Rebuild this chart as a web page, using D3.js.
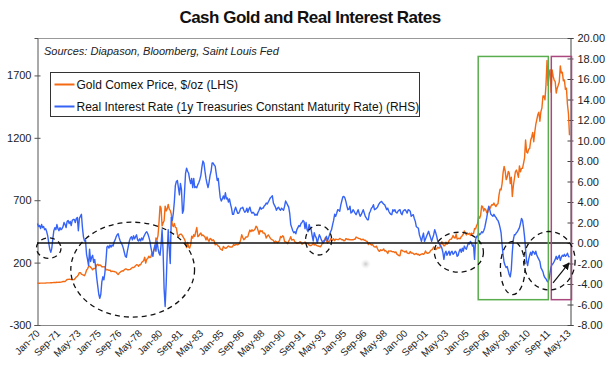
<!DOCTYPE html>
<html>
<head>
<meta charset="utf-8">
<script src="https://cdn.jsdelivr.net/npm/d3@7"></script>
<style>
  body { margin: 0; background: #fff; }
  svg text { font-family: "Liberation Sans", Arial, sans-serif; }
</style>
</head>
<body>
<div id="chart"></div>
<script>
// ---------------------------------------------------------------------------
// Data: month-end values, Jan-70 .. Jun-13
// ---------------------------------------------------------------------------

const startMonth = new Date(1970, 0, 1);

// Gold Comex price, $/oz (LHS)
const gold = [
  34.9, 35.0, 35.1, 35.6, 35.5, 35.4, 35.3, 35.4, 36.2, 37.5, 37.4, 37.4,          // 1970
  37.9, 38.7, 38.9, 39.9, 40.2, 40.1, 41.0, 42.7, 42.0, 42.5, 43.0, 43.6,          // 1971
  46.0, 48.2, 48.3, 49.0, 56.0, 64.5, 66.0, 67.0, 65.5, 64.9, 62.9, 63.9,          // 1972
  65.1, 74.2, 84.5, 90.5, 102.0, 120.0, 120.0, 106.8, 103.0, 100.1, 94.8, 112.3,   // 1973
  139.3, 150.0, 168.4, 172.2, 163.3, 154.1, 143.0, 154.1, 151.8, 158.8, 181.7, 186.5, // 1974
  175.8, 181.8, 177.3, 167.0, 167.0, 165.5, 166.7, 144.2, 141.3, 142.9, 138.2, 140.3, // 1975
  128.2, 132.3, 129.6, 128.4, 126.3, 123.8, 112.5, 104.0, 116.0, 123.2, 130.3, 134.5, // 1976
  132.3, 142.8, 148.9, 149.1, 143.0, 143.0, 144.1, 146.0, 154.1, 161.5, 160.5, 164.9, // 1977
  175.5, 182.3, 181.6, 170.9, 184.2, 183.1, 200.3, 208.1, 217.1, 242.6, 195.4, 226.0, // 1978
  233.7, 251.3, 240.1, 245.3, 274.6, 277.5, 296.5, 315.1, 397.3, 382.0, 415.7, 524.0, // 1979
  653, 637, 494, 518, 535, 653, 614, 631, 666, 629, 619, 590,                      // 1980
  502, 489, 513, 482, 479, 426, 406, 425, 428, 427, 414, 400,                      // 1981
  387, 362, 320, 361, 325, 317, 342, 411, 397, 423, 410, 448,                      // 1982
  481, 408, 415, 429, 437, 416, 422, 414, 405, 382, 405, 382,                      // 1983
  370, 394, 388, 375, 384, 373, 342, 348, 343, 333, 329, 309,                      // 1984
  306, 299, 329, 321, 314, 317, 326, 333, 326, 325, 325, 327,                      // 1985
  345, 338, 344, 345, 343, 346, 357, 384, 423, 401, 383, 391,                      // 1986
  405, 405, 408, 438, 461, 448, 463, 453, 460, 468, 492, 484,                      // 1987
  458, 426, 457, 449, 456, 436, 437, 427, 397, 412, 422, 410,                      // 1988
  395, 387, 383, 377, 361, 373, 369, 359, 367, 375, 409, 401,                      // 1989
  415, 407, 368, 367, 363, 352, 372, 387, 408, 380, 384, 386,                      // 1990
  366, 362, 355, 357, 360, 368, 362, 347, 355, 357, 366, 353,                      // 1991
  354, 353, 341, 337, 337, 343, 357, 340, 349, 339, 334, 333,                      // 1992
  330, 327, 337, 355, 378, 378, 401, 371, 355, 369, 371, 391,                      // 1993
  378, 381, 391, 376, 387, 386, 384, 385, 394, 389, 383, 383,                      // 1994
  375, 376, 392, 389, 385, 387, 383, 382, 384, 383, 387, 387,                      // 1995
  405, 400, 396, 392, 391, 382, 385, 387, 379, 380, 371, 369,                      // 1996
  345, 358, 349, 340, 345, 334, 326, 325, 332, 311, 296, 290,                      // 1997
  303, 297, 301, 310, 293, 296, 288, 273, 294, 292, 294, 288,                      // 1998
  287, 288, 280, 286, 268, 262, 256, 255, 299, 299, 292, 290,                      // 1999
  284, 294, 278, 275, 273, 289, 277, 277, 274, 265, 270, 273,                      // 2000
  265, 267, 258, 264, 268, 271, 266, 273, 293, 279, 275, 277,                      // 2001
  282, 297, 302, 308, 326, 318, 304, 312, 324, 316, 319, 348,                      // 2002
  368, 348, 334, 337, 364, 346, 355, 376, 386, 386, 398, 417,                      // 2003
  400, 397, 427, 388, 393, 395, 391, 408, 416, 428, 453, 438,                      // 2004
  422, 435, 428, 436, 418, 436, 430, 433, 473, 470, 495, 513,                      // 2005
  569, 556, 582, 655, 648, 614, 633, 623, 599, 604, 646, 632,                      // 2006
  650, 664, 662, 677, 660, 650, 665, 672, 743, 789, 783, 834,                      // 2007
  923, 971, 934, 865, 886, 930, 918, 833, 885, 730, 814, 870,                      // 2008
  928, 942, 916, 884, 975, 927, 955, 955, 996, 1040, 1182, 1087,                   // 2009
  1078, 1109, 1113, 1180, 1207, 1244, 1169, 1246, 1307, 1346, 1386, 1405,          // 2010
  1333, 1410, 1439, 1535, 1536, 1505, 1628, 1820, 1620, 1722, 1746, 1565,          // 2011
  1744, 1694, 1662, 1651, 1559, 1598, 1622, 1648, 1776, 1720, 1726, 1657,          // 2012
  1664, 1588, 1598, 1469, 1393, 1220                                               // 2013
];

// Real interest rate, 1y Treasuries CMT less inflation, % (RHS)
const realRate = [
  1.9, 1.6, 1.7, 1.4, 1.8, 1.5, 1.6, 1.3, 1.4, 1.1, 0.7, 0.0,          // 1970
  -0.6, -0.9, -0.5, 0.4, 1.2, 1.5, 1.3, 1.8, 1.4, 1.2, 1.5, 1.3,       // 1971
  1.4, 1.6, 2.0, 1.8, 1.5, 2.1, 2.2, 1.9, 2.1, 1.7, 2.2, 2.3,          // 1972
  2.3, 2.0, 2.4, 2.5, 1.2, 2.4, 2.6, 2.8, 1.5, 0.6, 0.2, 0.3,          // 1973
  -1.1, -1.6, -2.2, -0.6, -1.8, -1.4, -1.2, -1.9, -1.6, -2.4, -3.4, -4.2, // 1974
  -5.0, -5.4, -5.0, -3.8, -3.3, -3.6, -2.9, -1.8, -0.4, -0.3, -0.5, -0.2, // 1975
  -0.4, -0.2, -0.3, 0.1, 0.3, 0.6, 0.8, 0.9, 0.5, 0.2, 0.0, -0.2,      // 1976
  -0.5, -0.9, -1.3, -1.4, -0.8, -0.3, 0.2, 0.5, 0.6, 0.3, 0.7, 0.4,    // 1977
  0.6, 0.8, 0.3, 0.2, 0.4, 0.2, 0.5, 0.3, 0.6, 0.8, 1.0, 1.1,          // 1978
  0.9, 0.6, 0.2, -0.4, -0.9, -1.3, -0.6, -0.2, -0.8, 0.2, -0.5, -1.0,  // 1979
  -1.2, -0.2, 1.3, -0.8, -4.5, -6.2, -4.0, -1.0, 1.3, -0.5, -2.0, 2.5, // 1980
  2.2, 2.9, 4.0, 5.6, 6.0, 6.1, 5.4, 4.7, 5.8, 5.2, 2.9, 3.2,          // 1981
  5.0, 6.8, 7.3, 7.0, 6.8, 6.2, 5.8, 6.3, 5.4, 6.3, 5.4, 5.5,          // 1982
  5.4, 5.7, 5.9, 6.2, 6.6, 7.4, 8.0, 7.8, 7.0, 6.3, 5.8, 5.4,          // 1983
  5.9, 6.6, 7.0, 7.8, 7.8, 7.6, 7.5, 6.8, 6.1, 6.3, 5.3, 4.4,          // 1984
  4.1, 4.3, 4.6, 4.3, 4.9, 4.3, 4.4, 4.0, 4.3, 3.8, 3.4, 2.8,          // 1985
  2.8, 3.2, 3.5, 3.2, 2.9, 2.9, 3.1, 3.4, 3.4, 3.5, 3.2, 3.0,          // 1986
  3.1, 3.4, 3.0, 3.3, 3.5, 3.1, 2.9, 3.0, 2.9, 2.7, 2.8, 2.7,          // 1987
  3.0, 3.2, 3.5, 3.3, 3.4, 3.4, 3.6, 3.7, 3.9, 3.8, 4.0, 4.2,          // 1988
  4.4, 4.5, 4.6, 3.9, 3.7, 3.5, 3.2, 3.4, 3.5, 3.3, 3.2, 3.4,          // 1989
  3.3, 3.2, 3.6, 4.1, 3.9, 3.7, 3.5, 2.9, 1.8, 1.5, 1.2, 1.0,          // 1990
  1.1, 0.9, 1.3, 1.5, 1.7, 1.6, 1.9, 2.0, 2.2, 2.1, 1.4, 2.0,          // 1991
  1.3, 1.1, 1.8, 1.5, 1.3, 0.7, 0.2, 1.0, 0.7, 0.5, 0.0, 0.4,          // 1992
  0.8, 0.6, 0.3, 0.1, 0.0, 0.2, 0.4, 0.65, 0.2, 0.5, 0.8, 1.1,         // 1993
  1.3, 1.8, 2.2, 2.8, 2.6, 2.9, 3.25, 3.2, 3.1, 3.7, 4.1, 4.5,         // 1994
  4.55, 4.4, 4.06, 3.6, 3.25, 3.3, 3.6, 2.92, 3.0, 3.25, 3.1, 2.92,    // 1995
  2.76, 3.0, 3.25, 2.9, 2.6, 2.76, 3.0, 3.25, 2.92, 2.6, 2.44, 2.27,   // 1996
  2.27, 2.92, 3.1, 3.4, 3.5, 3.74, 3.25, 3.3, 3.4, 3.5, 3.74, 3.9,     // 1997
  4.0, 4.06, 3.9, 3.8, 3.74, 3.5, 3.25, 3.4, 3.1, 2.92, 2.8, 2.76,     // 1998
  3.25, 3.1, 3.25, 3.0, 2.92, 3.1, 3.2, 3.25, 2.9, 2.76, 3.1, 3.2,     // 1999
  3.25, 3.1, 2.92, 3.25, 3.2, 3.1, 2.6, 2.7, 2.76, 2.4, 2.11, 1.6,     // 2000
  1.5, 1.46, 0.81, 0.5, 0.16, 0.6, 0.97, 0.16, 0.4, 0.65, 0.9, 1.14,   // 2001
  0.81, 0.5, 0.16, 0.5, 0.81, 1.3, 1.0, 0.65, 0.16, 0.0, -0.16, -0.3,  // 2002
  -0.5, -0.9, -1.6, -1.0, -0.8, -1.2, -1.0, -0.8, -1.2, -0.9, -0.8, -1.1, // 2003
  -1.0, -0.8, -0.9, -1.3, -1.2, -0.8, -0.6, -0.9, -0.5, -0.8, -0.3, -0.5, // 2004
  -0.6, -0.3, 0.0, -0.1, 0.16, 0.0, -0.3, -0.2, -1.6, 0.3, 0.65, 0.6,  // 2005
  0.97, 0.8, 0.9, 1.1, 1.0, 1.2, 1.5, 2.0, 2.5, 3.1, 3.6, 3.2,         // 2006
  2.8, 2.7, 2.6, 2.8, 2.6, 2.5, 2.3, 2.2, 1.9, 1.5, 1.0, -0.2,         // 2007
  -1.2, -1.9, -2.2, -2.4, -2.3, -2.7, -3.1, -3.3, -2.6, -0.9, 0.3, 0.8, // 2008
  0.8, 1.0, 1.1, 1.3, 1.5, 1.9, 2.4, 2.2, 1.5, 0.6, -0.6, -1.8,        // 2009
  -2.2, -1.6, -1.2, -0.9, -1.2, -0.8, -0.9, -1.1, -0.8, -1.2, -1.4, -1.6, // 2010
  -1.8, -2.4, -2.6, -2.8, -3.2, -3.4, -3.5, -3.7, -3.8, -3.5, -2.9, -2.3, // 2011
  -2.1, -2.0, -1.8, -1.6, -1.3, -1.6, -1.4, -1.2, -1.7, -1.4, -1.2, -1.3, // 2012
  -1.1, -1.3, -1.2, -1.0, -1.3, -1.4                                   // 2013
];

// category axis labels, one every 20 months
const xTickLabels = ['Jan-70', 'Sep-71', 'May-73', 'Jan-75', 'Sep-76', 'May-78', 'Jan-80', 'Sep-81', 'May-83',
  'Jan-85', 'Sep-86', 'May-88', 'Jan-90', 'Sep-91', 'May-93', 'Jan-95', 'Sep-96', 'May-98', 'Jan-00',
  'Sep-01', 'May-03', 'Jan-05', 'Sep-06', 'May-08', 'Jan-10', 'Sep-11', 'May-13'];
const xTickStep = 20;

const leftTicks = [-300, 200, 700, 1200, 1700];
const rightTicks = [-8, -6, -4, -2, 0, 2, 4, 6, 8, 10, 12, 14, 16, 18, 20];

const seriesNames = ['Gold Comex Price, $/oz (LHS)', 'Real Interest Rate (1y Treasuries Constant Maturity Rate) (RHS)'];

// hand-drawn annotations, in (month index, RHS value) units
const circles = [
  { i: 11, r: -0.5, ri: 12, rr: 1.0 },
  { i: 93.2, r: -2.6, ri: 60.6, rr: 4.63 },
  { i: 275.3, r: 0.29, ri: 12.8, rr: 1.46 },
  { i: 412.7, r: -0.9, ri: 24, rr: 1.95 },
  { i: 465.4, r: -2.44, ri: 12.1, rr: 2.6 },
  { i: 501.3, r: -1.73, ri: 25.2, rr: 2.85 }
];
const boxes = [
  { i0: 431.6, i1: 500.3, r0: -5.53, r1: 18.2, color: '#5aad4e' },
  { i0: 503.2, i1: 523.0, r0: -5.53, r1: 18.2, color: '#a8487e' }
];
const arrow = { i0: 504.9, r0: -3.9, i1: 520.6, r1: -1.95 };

// ---------------------------------------------------------------------------
// SVG setup
// ---------------------------------------------------------------------------

const width = 610;
const height = 376;
const plot = { left: 37, right: 570, top: 38, bottom: 325 };

const svg = d3.select('#chart').append('svg')
  .attr('width', width)
  .attr('height', height)
  .attr('viewBox', [0, 0, width, height]);

svg.append('rect').attr('width', width).attr('height', height).attr('fill', '#fff');

const N = gold.length;
const months = d3.range(N).map(i => d3.timeMonth.offset(startMonth, i));

const x = d3.scaleLinear().domain([-0.5, N - 0.5]).range([plot.left, plot.right]);
const yL = d3.scaleLinear().domain([-300, 2000]).range([plot.bottom, plot.top]);
const yR = d3.scaleLinear().domain([-8, 20]).range([plot.bottom, plot.top]);

// title
svg.append('text')
  .attr('x', 310).attr('y', 23)
  .attr('text-anchor', 'middle')
  .attr('font-size', 17).attr('font-weight', 'bold')
  .attr('letter-spacing', -0.5)
  .attr('fill', '#111')
  .text('Cash Gold and Real Interest Rates');

// plot frame: top border and bottom axis line
svg.append('line')
  .attr('x1', plot.left).attr('x2', plot.right)
  .attr('y1', plot.top + 0.5).attr('y2', plot.top + 0.5)
  .attr('stroke', '#999');
svg.append('line')
  .attr('x1', plot.left).attr('x2', plot.right)
  .attr('y1', plot.bottom + 0.5).attr('y2', plot.bottom + 0.5)
  .attr('stroke', '#888');

// sources note
svg.append('text')
  .attr('x', 44).attr('y', 55)
  .attr('font-size', 11).attr('font-style', 'italic')
  .attr('fill', '#222')
  .text('Sources: Diapason, Bloomberg, Saint Louis Fed');

// ---------------------------------------------------------------------------
// Axes
// ---------------------------------------------------------------------------

const axisL = svg.append('g')
  .attr('transform', `translate(${plot.left + 0.5},0)`)
  .call(d3.axisLeft(yL).tickValues(leftTicks).tickSize(3).tickPadding(3).tickFormat(d => String(d)));
axisL.select('.domain').attr('stroke', '#555');
axisL.selectAll('.tick line').attr('x1', 3).attr('stroke', '#555');
axisL.selectAll('.tick text').attr('font-size', 11).attr('fill', '#222').attr('font-family', '"Liberation Sans", Arial, sans-serif');

const axisR = svg.append('g')
  .attr('transform', `translate(${plot.right + 0.5},0)`)
  .call(d3.axisRight(yR).tickValues(rightTicks).tickSize(3).tickPadding(4).tickFormat(d => d.toFixed(2)));
axisR.select('.domain').attr('stroke', '#444');
axisR.selectAll('.tick line').attr('x1', -3).attr('stroke', '#444');
axisR.selectAll('.tick text').attr('font-size', 11).attr('fill', '#222').attr('font-family', '"Liberation Sans", Arial, sans-serif');

// rotated category labels
svg.append('g')
  .selectAll('text')
  .data(xTickLabels)
  .join('text')
  .attr('transform', (d, k) => `translate(${x(k * xTickStep) + 3},${plot.bottom + 9}) rotate(-45)`)
  .attr('text-anchor', 'end')
  .attr('font-size', 10)
  .attr('fill', '#222')
  .text(d => d);

// ---------------------------------------------------------------------------
// Series
// ---------------------------------------------------------------------------

const goldLine = d3.line().x((d, i) => x(i)).y(d => yL(d));
const rateLine = d3.line().x((d, i) => x(i)).y(d => yR(d));

svg.append('path')
  .datum(gold)
  .attr('d', goldLine)
  .attr('fill', 'none')
  .attr('stroke', '#f36a12')
  .attr('stroke-width', 1.4)
  .attr('stroke-linejoin', 'round');

svg.append('path')
  .datum(realRate)
  .attr('d', rateLine)
  .attr('fill', 'none')
  .attr('stroke', '#3563f5')
  .attr('stroke-width', 1.4)
  .attr('stroke-linejoin', 'round');

// zero line of the real rate
svg.append('line')
  .attr('x1', plot.left).attr('x2', plot.right)
  .attr('y1', yR(0)).attr('y2', yR(0))
  .attr('stroke', '#111')
  .attr('stroke-width', 1.5);

// ---------------------------------------------------------------------------
// Annotations
// ---------------------------------------------------------------------------

const defs = svg.append('defs');
defs.append('marker')
  .attr('id', 'head')
  .attr('viewBox', '0 0 10 10')
  .attr('refX', 9).attr('refY', 5)
  .attr('markerWidth', 6).attr('markerHeight', 6)
  .attr('orient', 'auto')
  .append('path').attr('d', 'M0,0L10,5L0,10z').attr('fill', '#111');
const blur = defs.append('radialGradient').attr('id', 'smudge');
blur.append('stop').attr('offset', '0%').attr('stop-color', '#c8c8c8');
blur.append('stop').attr('offset', '100%').attr('stop-color', '#fff').attr('stop-opacity', 0);

svg.append('circle')
  .attr('cx', x(321.4)).attr('cy', yR(-2.05)).attr('r', 6)
  .attr('fill', 'url(#smudge)');

svg.append('g')
  .selectAll('rect')
  .data(boxes)
  .join('rect')
  .attr('x', d => x(d.i0))
  .attr('y', d => yR(d.r1))
  .attr('width', d => x(d.i1) - x(d.i0))
  .attr('height', d => yR(d.r0) - yR(d.r1))
  .attr('fill', 'none')
  .attr('stroke', d => d.color)
  .attr('stroke-width', 1.5);

svg.append('g')
  .selectAll('ellipse')
  .data(circles)
  .join('ellipse')
  .attr('cx', d => x(d.i))
  .attr('cy', d => yR(d.r))
  .attr('rx', d => x(d.ri) - x(0))
  .attr('ry', d => yR(0) - yR(d.rr))
  .attr('fill', 'none')
  .attr('stroke', '#111')
  .attr('stroke-width', 1.3)
  .attr('stroke-dasharray', '5,4');

svg.append('line')
  .attr('x1', x(arrow.i0)).attr('y1', yR(arrow.r0))
  .attr('x2', x(arrow.i1)).attr('y2', yR(arrow.r1))
  .attr('stroke', '#111')
  .attr('stroke-width', 1.2)
  .attr('marker-end', 'url(#head)');

// ---------------------------------------------------------------------------
// Legend
// ---------------------------------------------------------------------------

const legend = svg.append('g').attr('transform', 'translate(50.5,72.5)');
legend.append('rect')
  .attr('width', 369).attr('height', 44)
  .attr('fill', '#fff')
  .attr('stroke', '#333');

const legendColors = ['#f36a12', '#3563f5'];
seriesNames.forEach((name, k) => {
  const yy = 12 + k * 22;
  legend.append('line')
    .attr('x1', 4).attr('x2', 24)
    .attr('y1', yy).attr('y2', yy)
    .attr('stroke', legendColors[k])
    .attr('stroke-width', 2);
  legend.append('text')
    .attr('x', 26).attr('y', yy + 4.5)
    .attr('font-size', 12)
    .attr('fill', '#111')
    .text(name);
});
</script>
</body>
</html>
